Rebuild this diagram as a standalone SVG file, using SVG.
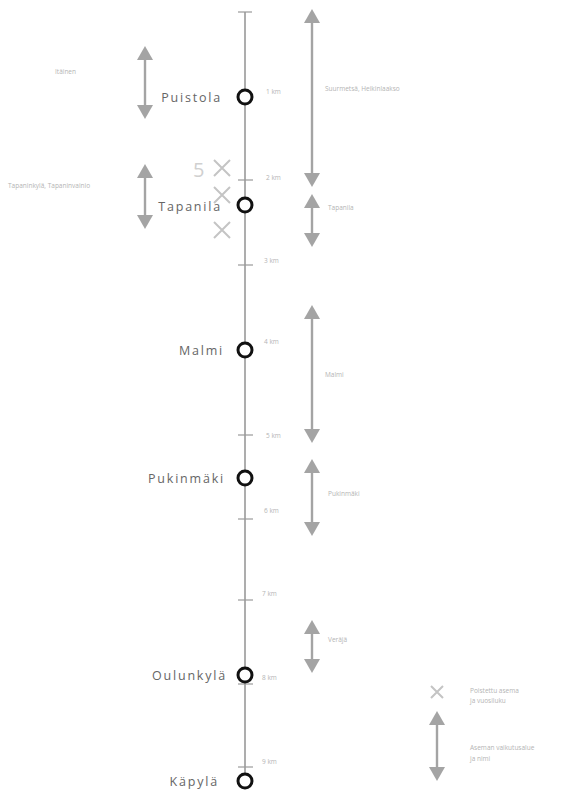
<svg xmlns="http://www.w3.org/2000/svg" width="580" height="798" viewBox="0 0 580 798">
  <style>
    .track { stroke: #8a8a8a; stroke-width: 1.4; fill: none; }
    .tick { stroke: #9a9a9a; stroke-width: 1.2; }
    .station { fill: #ffffff; stroke: #111111; stroke-width: 3; }
    .name { font-family: "Open Sans", "Liberation Sans", sans-serif; font-size: 12.5px; fill: #666666; letter-spacing: 1.8px; }
    .faint { font-family: "Open Sans", "Liberation Sans", sans-serif; font-size: 6.5px; fill: #b4b4b4; }
    .span { stroke: #a4a4a4; stroke-width: 2.4; fill: none; }
    .cross { stroke: #c4c4c4; stroke-width: 2; fill: none; }
    .big { font-family: "Open Sans", "Liberation Sans", sans-serif; font-size: 20px; fill: #d0d0d0; }
  </style>
  <defs>
    <marker id="head" viewBox="0 0 14 16" refX="7" refY="8" markerWidth="14" markerHeight="16" markerUnits="userSpaceOnUse" orient="auto-start-reverse">
      <path d="M0 0 L14 8 L0 16 Z" fill="#a4a4a4"/>
    </marker>
  </defs>
  <rect width="580" height="798" fill="#ffffff"/>

  <!-- track line with kilometre ticks -->
  <g id="track">
    <line class="track" x1="245" y1="12" x2="245" y2="785"/>
    <line class="tick" x1="238" y1="12" x2="252" y2="12"/>
    <line class="tick" x1="238" y1="180" x2="253" y2="180"/>
    <line class="tick" x1="238" y1="265" x2="253" y2="265"/>
    <line class="tick" x1="238" y1="435" x2="253" y2="435"/>
    <line class="tick" x1="238" y1="519" x2="253" y2="519"/>
    <line class="tick" x1="238" y1="600" x2="253" y2="600"/>
    <line class="tick" x1="238" y1="684" x2="253" y2="684"/>
    <line class="tick" x1="238" y1="767" x2="253" y2="767"/>
    <text class="faint" x="266" y="94">1 km</text>
    <text class="faint" x="266" y="180">2 km</text>
    <text class="faint" x="264" y="263">3 km</text>
    <text class="faint" x="264" y="344">4 km</text>
    <text class="faint" x="266" y="438">5 km</text>
    <text class="faint" x="264" y="513">6 km</text>
    <text class="faint" x="262" y="596">7 km</text>
    <text class="faint" x="262" y="680">8 km</text>
    <text class="faint" x="262" y="764">9 km</text>
  </g>

  <!-- stations -->
  <g id="puistola">
    <circle class="station" cx="245" cy="97" r="7"/>
    <text class="name" x="222" y="102" text-anchor="end">Puistola</text>
  </g>
  <g id="tapanila">
    <circle class="station" cx="245" cy="205" r="7"/>
    <text class="name" x="222" y="211" text-anchor="end">Tapanila</text>
  </g>
  <g id="malmi">
    <circle class="station" cx="245" cy="350" r="7"/>
    <text class="name" x="224" y="355" text-anchor="end">Malmi</text>
  </g>
  <g id="pukinmaki">
    <circle class="station" cx="245" cy="478" r="7"/>
    <text class="name" x="225" y="483" text-anchor="end">Pukinmäki</text>
  </g>
  <g id="oulunkyla">
    <circle class="station" cx="245" cy="675" r="7"/>
    <text class="name" x="227" y="680" text-anchor="end">Oulunkylä</text>
  </g>
  <g id="kapyla">
    <circle class="station" cx="245" cy="781" r="7"/>
    <text class="name" x="219" y="786" text-anchor="end">Käpylä</text>
  </g>

  <!-- catchment spans -->
  <g id="spans">
    <line class="span" x1="312" y1="16" x2="312" y2="180" marker-start="url(#head)" marker-end="url(#head)"/>
    <line class="span" x1="312" y1="201" x2="312" y2="240" marker-start="url(#head)" marker-end="url(#head)"/>
    <line class="span" x1="312" y1="312" x2="312" y2="436" marker-start="url(#head)" marker-end="url(#head)"/>
    <line class="span" x1="312" y1="466" x2="312" y2="529" marker-start="url(#head)" marker-end="url(#head)"/>
    <line class="span" x1="312" y1="627" x2="312" y2="666" marker-start="url(#head)" marker-end="url(#head)"/>
    <line class="span" x1="145" y1="53" x2="145" y2="112" marker-start="url(#head)" marker-end="url(#head)"/>
    <line class="span" x1="145" y1="171" x2="145" y2="222" marker-start="url(#head)" marker-end="url(#head)"/>
    <text class="faint" x="325" y="91">Suurmetsä, Heikinlaakso</text>
    <text class="faint" x="328" y="210">Tapanila</text>
    <text class="faint" x="325" y="377">Malmi</text>
    <text class="faint" x="328" y="496">Pukinmäki</text>
    <text class="faint" x="328" y="642">Veräjä</text>
    <text class="faint" x="55" y="74">Itäinen</text>
    <text class="faint" x="8" y="188">Tapaninkylä, Tapaninvainio</text>
  </g>

  <!-- closed stops -->
  <g id="closed">
    <text class="big" x="193" y="177">5</text>
    <path class="cross" d="M214 160 L230 176 M230 160 L214 176"/>
    <path class="cross" d="M214 187 L230 203 M230 187 L214 203"/>
    <path class="cross" d="M214 222 L230 238 M230 222 L214 238"/>
  </g>

  <!-- legend -->
  <g id="legend">
    <path class="cross" d="M431 686 L443 698 M443 686 L431 698"/>
    <text class="faint" x="470" y="693">Poistettu asema</text>
    <text class="faint" x="470" y="703">ja vuosiluku</text>
    <line class="span" x1="437" y1="718" x2="437" y2="774" marker-start="url(#head)" marker-end="url(#head)"/>
    <text class="faint" x="470" y="750">Aseman vaikutusalue</text>
    <text class="faint" x="470" y="761">ja nimi</text>
  </g>
</svg>
